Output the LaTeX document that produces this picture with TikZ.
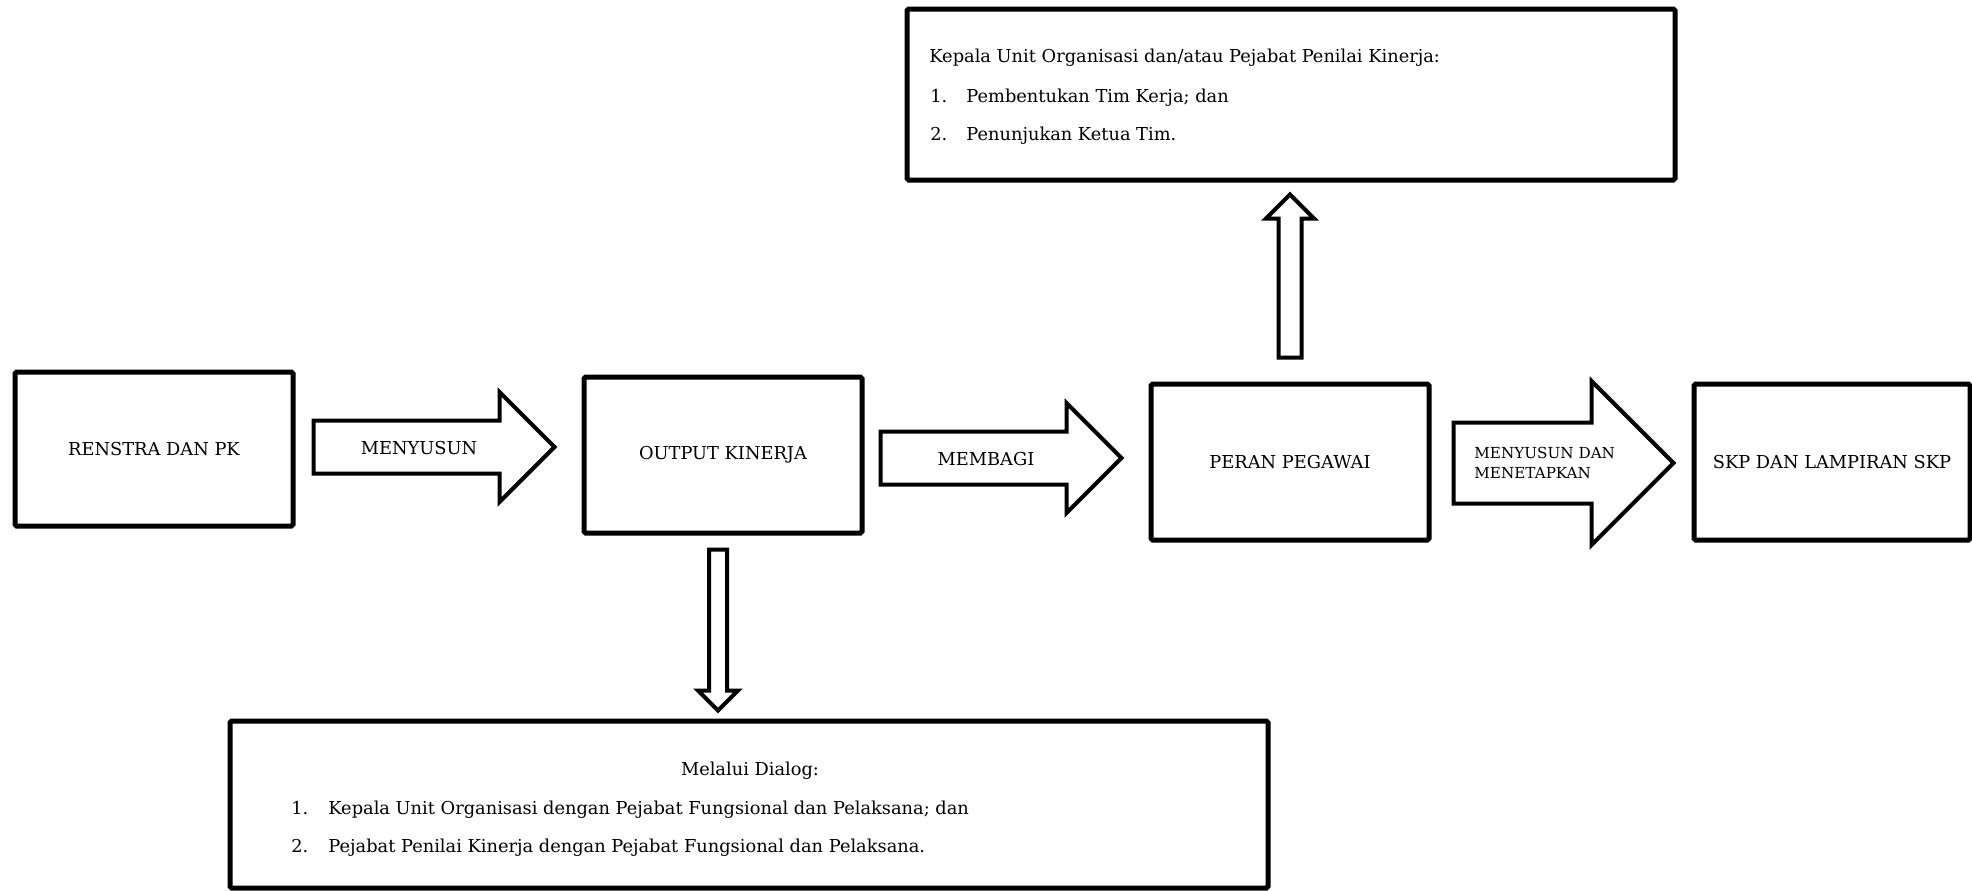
\documentclass[tikz,border=0pt]{standalone}
\usepackage{fontspec}
\setmainfont{DejaVu Serif}
\usetikzlibrary{calc}

\tikzset{
  box/.style={draw, line width=2.5pt, rounded corners=0.8pt, inner sep=0pt},
  blk/.style={draw, line width=2pt, fill=white, line join=miter},
  txt/.style={inner sep=0pt},
}

\begin{document}
\begin{tikzpicture}[x=0.5pt, y=-0.5pt, font=\fontsize{8.9}{10}\selectfont]
\useasboundingbox (0,0) rectangle (1972,890);
% boxes
\node[box, minimum width=139pt, minimum height=77pt] (renstra) at (154,449) {RENSTRA DAN PK};
\node[box, minimum width=139pt, minimum height=78pt] (output) at (723,455) {OUTPUT KINERJA};
\node[box, minimum width=139pt, minimum height=78pt] (peran) at (1290,462) {PERAN PEGAWAI};
\node[box, minimum width=138pt, minimum height=78pt] (skp) at (1832,462) {SKP DAN LAMPIRAN SKP};
\node[box, minimum width=384pt, minimum height=85.5pt] (tim) at (1291,94.5) {};
\node[box, minimum width=519pt, minimum height=83.5pt] (dialog) at (749,804.5) {};
% horizontal block arrows
\def\s{26.5} \def\h{55}
\coordinate (a1t) at ($(renstra.east)+(18,-2)$);
\coordinate (a1p) at ($(output.west)+(-27,-8)$);
\draw[blk] ($(a1t)+(0,-\s)$) -- ($(a1p)+(-\h,-\s)$) -- ($(a1p)+(-\h,-\h)$) -- (a1p)
  -- ($(a1p)+(-\h,\h)$) -- ($(a1p)+(-\h,\s)$) -- ($(a1t)+(0,\s)$) -- cycle;
\coordinate (a2t) at ($(output.east)+(16,3)$);
\coordinate (a2p) at ($(peran.west)+(-27,-4)$);
\draw[blk] ($(a2t)+(0,-\s)$) -- ($(a2p)+(-\h,-\s)$) -- ($(a2p)+(-\h,-\h)$) -- (a2p)
  -- ($(a2p)+(-\h,\h)$) -- ($(a2p)+(-\h,\s)$) -- ($(a2t)+(0,\s)$) -- cycle;
\def\s{40.5} \def\h{82}
\coordinate (a3t) at ($(peran.east)+(22,1)$);
\coordinate (a3p) at ($(skp.west)+(-18,1)$);
\draw[blk] ($(a3t)+(0,-\s)$) -- ($(a3p)+(-\h,-\s)$) -- ($(a3p)+(-\h,-\h)$) -- (a3p)
  -- ($(a3p)+(-\h,\h)$) -- ($(a3p)+(-\h,\s)$) -- ($(a3t)+(0,\s)$) -- cycle;
% vertical block arrows
\def\s{11.5} \def\h{24}
\coordinate (upt) at ($(peran.north)+(0,-24)$);
\coordinate (upp) at ($(tim.south)+(-1,12)$);
\draw[blk] ($(upt)+(-\s,0)$) -- ($(upp)+(-\s,\h)$) -- ($(upp)+(-\h,\h)$) -- (upp)
  -- ($(upp)+(\h,\h)$) -- ($(upp)+(\s,\h)$) -- ($(upt)+(\s,0)$) -- cycle;
\def\s{9} \def\h{20}
\coordinate (dnt) at ($(output.south)+(-5,14)$);
\coordinate (dnp) at ($(dialog.north)+(-31,-8)$);
\draw[blk] ($(dnt)+(-\s,0)$) -- ($(dnp)+(-\s,-\h)$) -- ($(dnp)+(-\h,-\h)$) -- (dnp)
  -- ($(dnp)+(\h,-\h)$) -- ($(dnp)+(\s,-\h)$) -- ($(dnt)+(\s,0)$) -- cycle;
% arrow labels
\node[txt] (menyusun) at (419,448) {MENYUSUN};
\node[txt] (membagi) at (986,459) {MEMBAGI};
\node[txt, anchor=west, align=left, font=\fontsize{7.6}{10}\selectfont] (menetapkan) at (1474,463) {MENYUSUN DAN\\MENETAPKAN};
% texts in the top box
\node[txt, anchor=base west] (timhead) at (929,62) {Kepala Unit Organisasi dan/atau Pejabat Penilai Kinerja:};
\node[txt, anchor=base west] (timno1) at (930,102) {1.};
\node[txt, anchor=base west] (tim1) at (966,102) {Pembentukan Tim Kerja; dan};
\node[txt, anchor=base west] (timno2) at (930,140) {2.};
\node[txt, anchor=base west] (tim2) at (966,140) {Penunjukan Ketua Tim.};
% texts in the bottom box
\node[txt, anchor=base] (dialoghead) at (750,775) {Melalui Dialog:};
\node[txt, anchor=base west] (dialogno1) at (291,814) {1.};
\node[txt, anchor=base west] (dialog1) at (328,814) {Kepala Unit Organisasi dengan Pejabat Fungsional dan Pelaksana; dan};
\node[txt, anchor=base west] (dialogno2) at (291,852) {2.};
\node[txt, anchor=base west] (dialog2) at (328,852) {Pejabat Penilai Kinerja dengan Pejabat Fungsional dan Pelaksana.};
\end{tikzpicture}
\end{document}
